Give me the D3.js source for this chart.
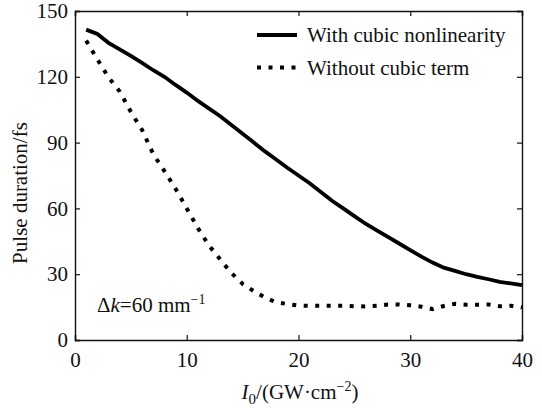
<!DOCTYPE html>
<html lang="en">
<head>
    <meta charset="UTF-8">
    <title>Pulse duration vs I0</title>
    <script src="https://d3js.org/d3.v7.min.js"></script>
    <style>
        body { margin: 0; background: #fff; }
        svg text { font-family: 'Times New Roman', Times, 'Liberation Serif', 'DejaVu Serif', serif; fill: #111; }
    </style>
</head>
<body>
    <div id="chart"></div>

    <script>
        // Dados
        const intensidade = d3.range(1, 41);
        const comCubico = [141.5, 139.5, 135.5, 132.5, 129.5, 126.3, 123, 120, 116.3, 112.8,
                           109, 105.5, 102, 98, 94, 90, 86, 82.3, 78.5, 75,
                           71.5, 67.5, 63.5, 60, 56.5, 53, 50, 47, 44, 41,
                           38, 35.3, 33, 31.5, 30, 28.8, 27.7, 26.5, 25.8, 25];
        const semCubico = [136.5, 128, 119.7, 113.3, 104, 95.8, 84.8, 77, 69, 60,
                           51, 43, 36.7, 30.5, 25.6, 22.3, 19.3, 17.2, 16.4, 15.7,
                           15.6, 15.6, 15.6, 15.6, 15.4, 15.3, 15.6, 16.2, 16.2, 15.8,
                           15.2, 14.1, 15.5, 16.5, 16.1, 16.1, 16.2, 15.4, 15.6, 14.8];
        const xTicks = [0, 10, 20, 30, 40];
        const yTicks = [0, 30, 60, 90, 120, 150];
        const legendas = ["With cubic nonlinearity", "Without cubic term"];

        const width = 542;
        const height = 408;
        const margin = { left: 75, right: 20, top: 11, bottom: 68 };
        const fonte = "'Times New Roman', Times, 'Liberation Serif', 'DejaVu Serif', serif";

        const svg = d3.select('#chart').append('svg')
            .attr('width', width)
            .attr('height', height)
            .attr('font-family', fonte);

        const x = d3.scaleLinear().domain([0, 40]).range([margin.left, width - margin.right]);
        const y = d3.scaleLinear().domain([0, 150]).range([height - margin.bottom, margin.top]);

        // Eixos com ticks para dentro (nos quatro lados)
        const fmt = d3.format('d');
        svg.append('g')
            .attr('transform', `translate(0,${y(0)})`)
            .call(d3.axisBottom(x).tickValues(xTicks).tickSize(-5).tickPadding(12).tickFormat(fmt));
        svg.append('g')
            .attr('transform', `translate(0,${y(150)})`)
            .call(d3.axisTop(x).tickValues(xTicks).tickSize(-5).tickFormat(''));
        svg.append('g')
            .attr('transform', `translate(${x(0)},0)`)
            .call(d3.axisLeft(y).tickValues(yTicks).tickSize(-5).tickPadding(7).tickFormat(fmt));
        svg.append('g')
            .attr('transform', `translate(${x(40)},0)`)
            .call(d3.axisRight(y).tickValues(yTicks).tickSize(-5).tickFormat(''));

        svg.selectAll('g').attr('font-family', fonte);
        svg.selectAll('.domain').attr('stroke', '#111').attr('stroke-width', 1.4);
        svg.selectAll('.tick line').attr('stroke', '#111').attr('stroke-width', 1.2);
        svg.selectAll('.tick text')
            .attr('font-size', 21)
            .attr('fill', '#111');

        // Curvas
        const line = d3.line()
            .x((d, i) => x(intensidade[i]))
            .y(d => y(d));

        svg.append('path')
            .datum(comCubico)
            .attr('d', line)
            .attr('fill', 'none')
            .attr('stroke', '#000')
            .attr('stroke-width', 3.8);

        svg.append('path')
            .datum(semCubico)
            .attr('d', line)
            .attr('fill', 'none')
            .attr('stroke', '#000')
            .attr('stroke-width', 4)
            .attr('stroke-dasharray', '4,7.5');

        // Legenda
        const leg = svg.append('g');
        leg.append('line')
            .attr('x1', 257).attr('x2', 297).attr('y1', 35).attr('y2', 35)
            .attr('stroke', '#000').attr('stroke-width', 3.8);
        leg.append('line')
            .attr('x1', 257).attr('x2', 300).attr('y1', 67.5).attr('y2', 67.5)
            .attr('stroke', '#000').attr('stroke-width', 4)
            .attr('stroke-dasharray', '4,7.5');
        leg.selectAll('text')
            .data(legendas)
            .enter()
            .append('text')
            .attr('x', 307)
            .attr('y', (d, i) => 42 + i * 32.5)
            .attr('font-size', 21)
            .text(d => d);

        // Anotação Δk
        const anot = svg.append('text')
            .attr('x', 97)
            .attr('y', 312)
            .attr('font-size', 21);
        anot.append('tspan').text('Δ');
        anot.append('tspan').attr('font-style', 'italic').text('k');
        anot.append('tspan').text('=60 mm');
        anot.append('tspan').attr('font-size', 14).attr('dy', -8).text('−1');

        // Título do eixo x
        const xt = svg.append('text')
            .attr('x', 300)
            .attr('y', 399)
            .attr('text-anchor', 'middle')
            .attr('font-size', 21);
        xt.append('tspan').attr('font-style', 'italic').text('I');
        xt.append('tspan').attr('font-size', 15).attr('dy', 5).text('0');
        xt.append('tspan').attr('dy', -5).text('/(GW·cm');
        xt.append('tspan').attr('font-size', 14).attr('dy', -8).text('−2');
        xt.append('tspan').attr('dy', 8).text(')');

        // Título do eixo y
        svg.append('text')
            .attr('transform', 'translate(27,193) rotate(-90)')
            .attr('text-anchor', 'middle')
            .attr('font-size', 21)
            .text('Pulse duration/fs');
    </script>
</body>
</html>
